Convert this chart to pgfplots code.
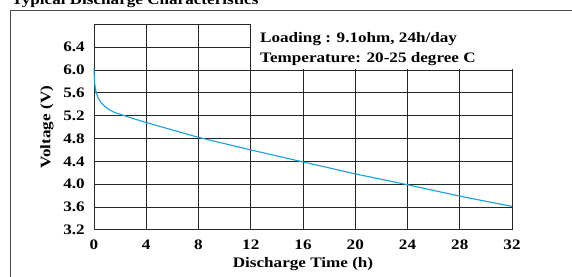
\documentclass[border=0pt]{standalone}
\usepackage{fontspec}
\setmainfont{Liberation Serif}[FakeStretch=1.18]
\usepackage{pgfplots}
\pgfplotsset{compat=1.18}
\definecolor{curveblue}{RGB}{20,160,225}
\newcommand{\chartfont}{\fontsize{14.5bp}{17bp}\selectfont\bfseries}
\begin{document}
\begin{tikzpicture}
\useasboundingbox (0,0) rectangle (572bp,-277bp);
% outer frame and title
\draw[black!70, line width=1bp] (10bp,-277bp) -- (10bp,-10bp) -- (572bp,-10bp);
\node[anchor=base west, inner sep=0pt, font=\chartfont] at (11.5bp,-4.5bp) {Typical Discharge Characteristics};
\begin{axis}[
  at={(94bp,-229.8bp)}, anchor=south west,
  width=418bp, height=205.4bp, scale only axis,
  xmin=0, xmax=32, ymin=3.2, ymax=6.8,
  xtick={0,4,...,32},
  ytick={3.2,3.6,4.0,4.4,4.8,5.2,5.6,6.0,6.4,6.8},
  yticklabels={3.2,3.6,4.0,4.4,4.8,5.2,5.6,6.0,6.4,},
  /pgf/number format/assume math mode=true,
  xticklabel style={/pgf/number format/fixed, yshift=-7bp},
  every tick label/.append style={font=\chartfont},
  yticklabel style={xshift=-5.7bp},
  major tick length=0pt,
  axis line style={draw=none},
  grid=major,
  major grid style={black!85, line width=0.9bp},
  clip=false,
  xlabel={Discharge Time (h)},
  ylabel={Voltage (V)},
  xlabel style={at={(axis description cs:0.5,-0.1811)}, anchor=base, font=\chartfont},
  ylabel style={at={(axis description cs:-0.1124,0.5)}, anchor=center, font=\chartfont},
]
\fill[white] ([xshift=0.7bp,yshift=0.7bp]axis cs:12,6.0) rectangle ([xshift=3bp,yshift=3bp]axis cs:32,6.8);
\addplot[curveblue, line width=1.1bp, mark=none] coordinates {
(0,6.03)(0.02,5.9)(0.05,5.78)(0.1,5.68)(0.18,5.6)(0.3,5.52)(0.45,5.46)(0.65,5.4)(0.9,5.35)(1.2,5.3)(1.6,5.255)(2.2,5.21)(3,5.15)(4,5.08)(6,4.95)(8,4.82)(10,4.71)(12,4.60)(14,4.495)(16,4.39)(18,4.285)(20,4.18)(22,4.085)(24,3.99)(26,3.89)(28,3.79)(30,3.70)(32,3.61)
};
\end{axis}
\node[anchor=base west, inner sep=0pt, font=\chartfont] at (260bp,-42.7bp) {Loading : 9.1ohm, 24h/day};
\node[anchor=base west, inner sep=0pt, font=\chartfont] at (260bp,-62.7bp) {Temperature: 20-25 degree C};
\end{tikzpicture}
\end{document}
